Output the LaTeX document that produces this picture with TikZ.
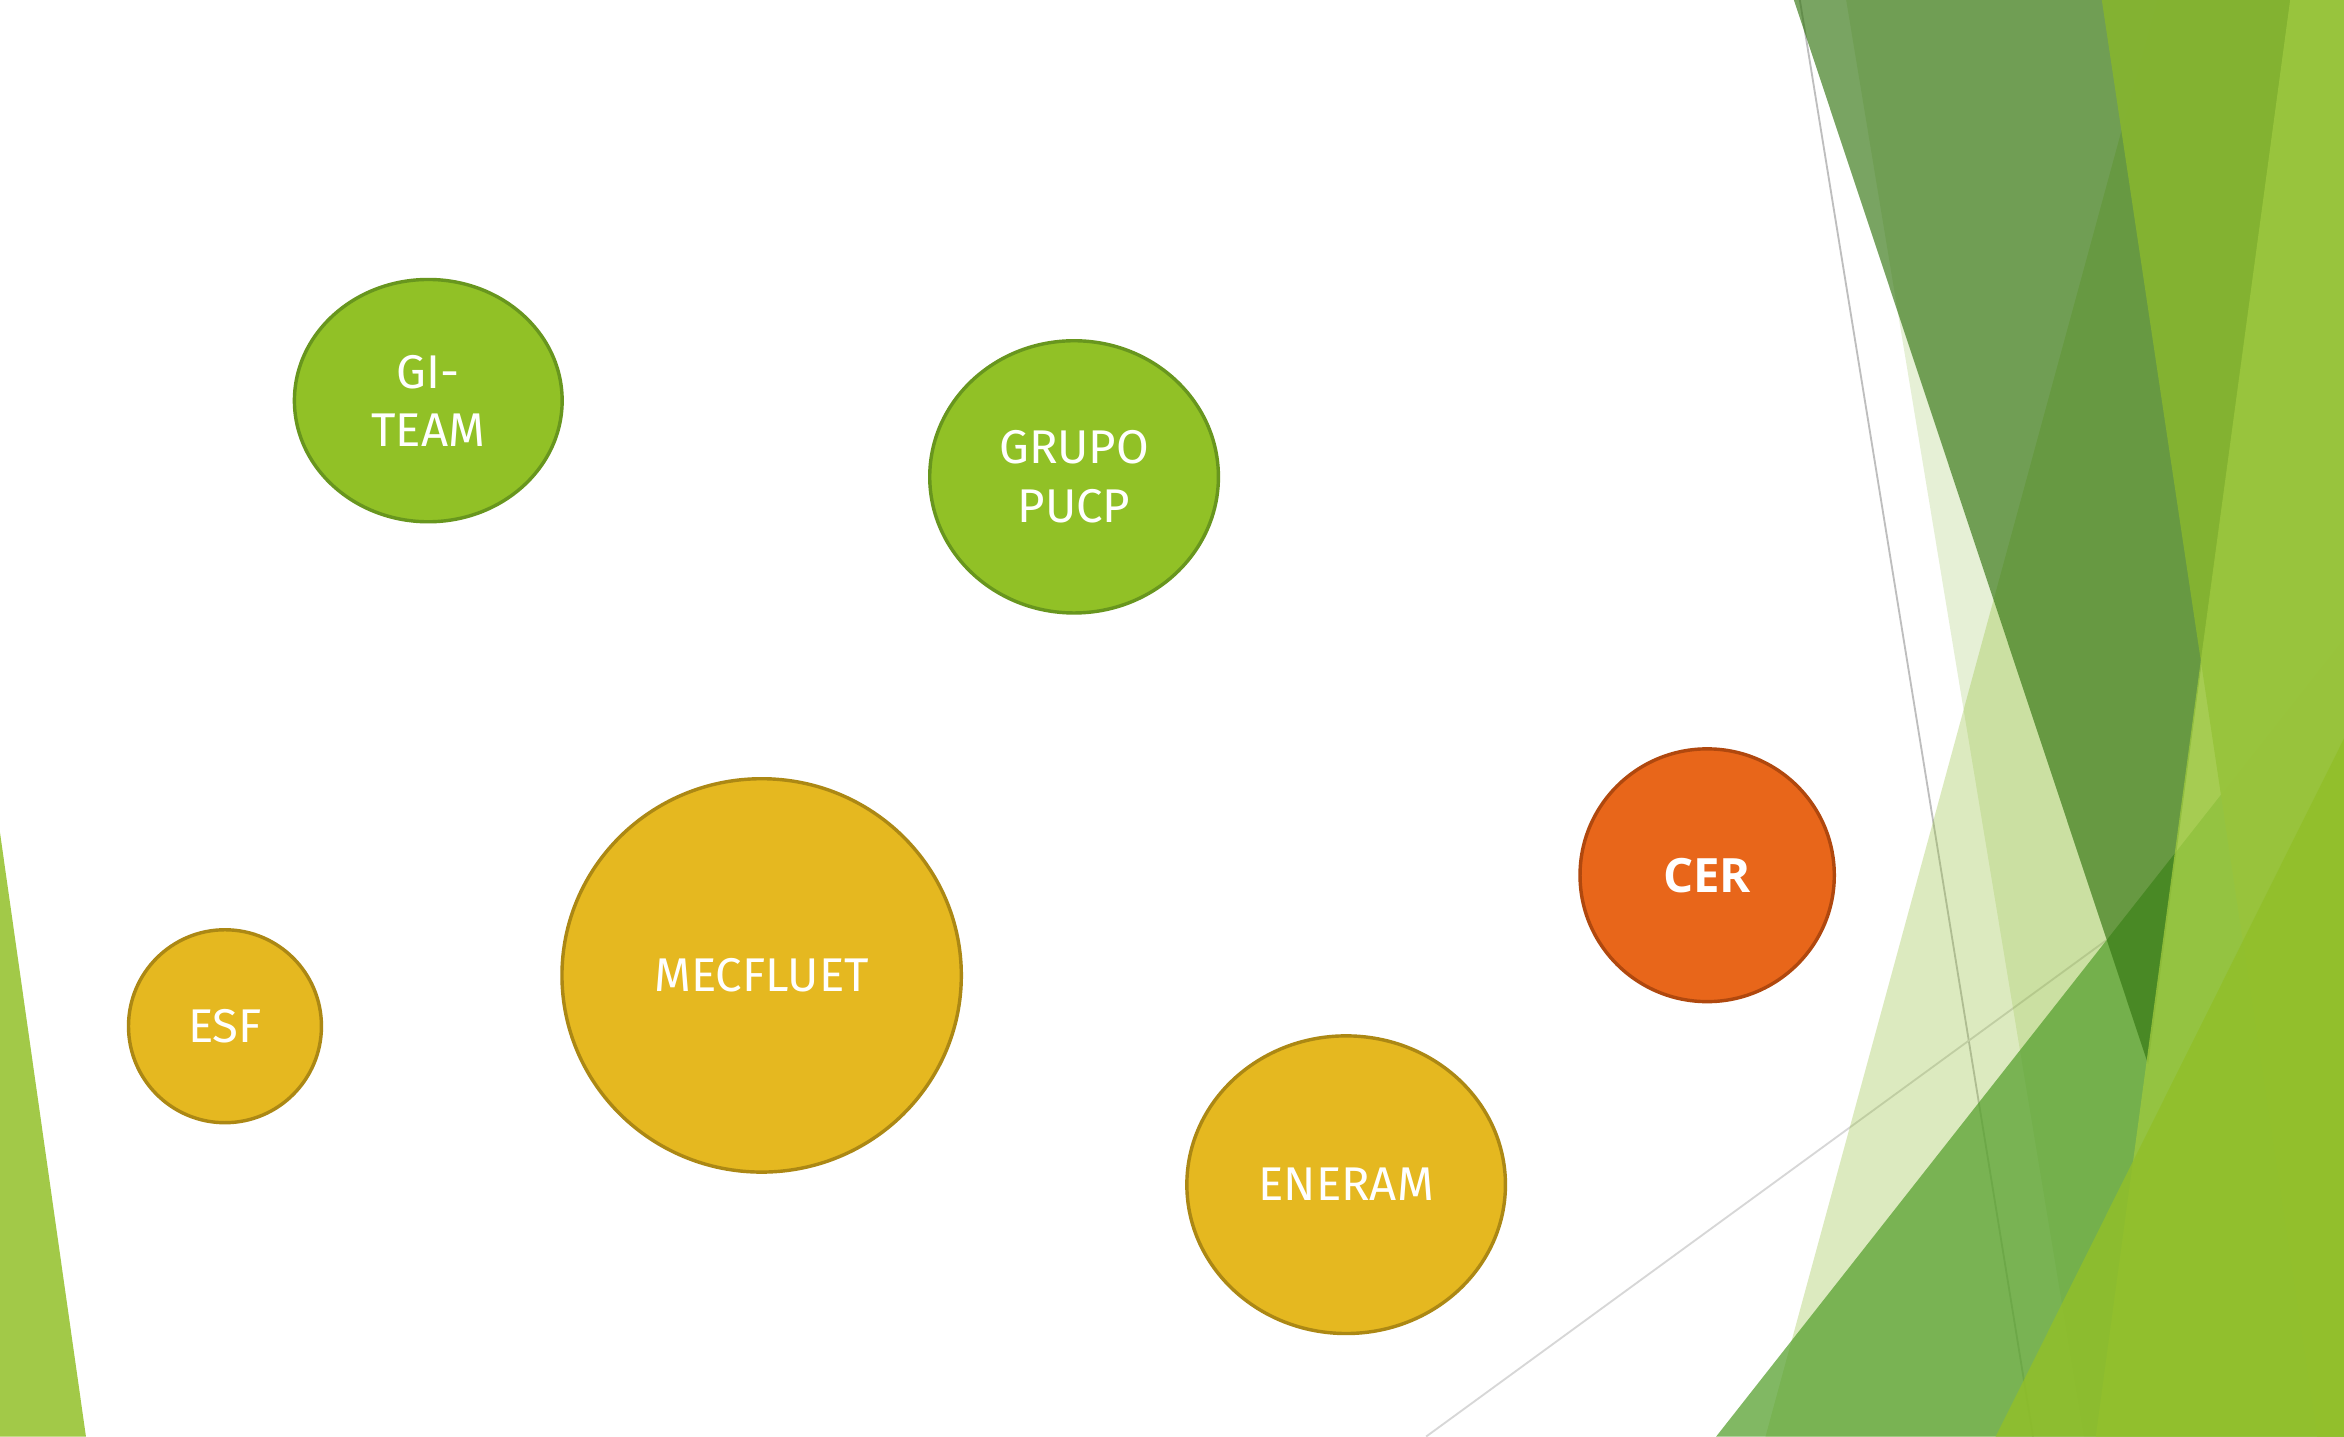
\documentclass[tikz,border=0pt]{standalone}
\usepackage{fontspec}
\setmainfont{Fira Sans}
\newfontfamily\cerfont{Open Sans}
\usetikzlibrary{shapes.geometric}
\definecolor{gfill}{RGB}{145,193,38}
\definecolor{gline}{RGB}{104,150,30}
\definecolor{yfill}{RGB}{229,184,32}
\definecolor{yline}{RGB}{172,136,20}
\definecolor{ofill}{RGB}{232,102,26}
\definecolor{oline}{RGB}{176,72,14}
\definecolor{leftgreen}{RGB}{162,201,72}
\definecolor{cA}{RGB}{130,180,50}
\definecolor{cB}{RGB}{142,188,45}
\definecolor{cD}{RGB}{52,117,17}
\definecolor{cE}{RGB}{88,161,48}
\definecolor{cQ}{RGB}{133,180,49}
\definecolor{cP}{RGB}{157,200,63}
\definecolor{cF}{RGB}{145,191,42}
\definecolor{thinA}{RGB}{190,190,190}
\definecolor{thinB}{RGB}{215,215,215}
\tikzset{
  bubble/.style={ellipse, draw, line width=0.65pt, inner sep=0pt, text=white, align=center,
    font=\fontsize{9}{11.1}\selectfont},
  greenb/.style={bubble, fill=gfill, draw=gline},
  yellowb/.style={bubble, fill=yfill, draw=yline},
  orangeb/.style={bubble, fill=ofill, draw=oline},
  facet/.style={draw=none, fill opacity=#1},
}
\begin{document}
\begin{tikzpicture}[x=0.01cm,y=-0.01cm]
\fill[white] (0,0) rectangle (1568,961);
\useasboundingbox (0,0) rectangle (1568,961);
% left sliver
\fill[leftgreen] (0,557) -- (57.5,961) -- (0,961) -- cycle;
% thin lines
\draw[thinA, line width=0.35pt] (1204,0) -- (1360,961);
\draw[thinB, line width=0.35pt] (954,961) -- (1409,629);
% facet shapes
\fill[cA, facet=0.2] (1235,0) -- (1568,0) -- (1568,961) -- (1394,961) -- cycle;
\fill[cB, facet=0.3] (1443,0) -- (1568,0) -- (1568,961) -- (1181,961) -- cycle;
\fill[cE, facet=0.75] (1148,961) -- (1568,427) -- (1568,961) -- cycle;
\fill[cD, facet=0.66] (1200,0) -- (1532,0) -- (1437,712) -- cycle;
\fill[cQ, facet=0.95] (1406,0) -- (1568,0) -- (1568,961) -- (1550,961) -- cycle;
\fill[cP, facet=0.8] (1532,0) -- (1568,0) -- (1568,961) -- (1402,961) -- cycle;
\fill[cF, facet=0.85] (1335,961) -- (1568,494) -- (1568,961) -- cycle;
% bubbles
\node[greenb, minimum width=1.79cm, minimum height=1.62cm] (giteam) at (286.5,268) {GI-\\TEAM};
\node[greenb, minimum width=1.93cm, minimum height=1.82cm] (pucp) at (718.5,319) {GRUPO\\PUCP};
\node[yellowb, minimum width=2.67cm, minimum height=2.63cm] (mec) at (509.5,652.5) {MECFLUET};
\node[yellowb, minimum width=1.29cm, minimum height=1.29cm] (esf) at (150.5,686.5) {ESF};
\node[yellowb, minimum width=2.13cm, minimum height=1.99cm] (eneram) at (900.5,792.5) {ENERAM};
\node[orangeb, minimum width=1.70cm, minimum height=1.69cm] (cer) at (1142,585.5) {\cerfont\bfseries CER};
\end{tikzpicture}
\end{document}
